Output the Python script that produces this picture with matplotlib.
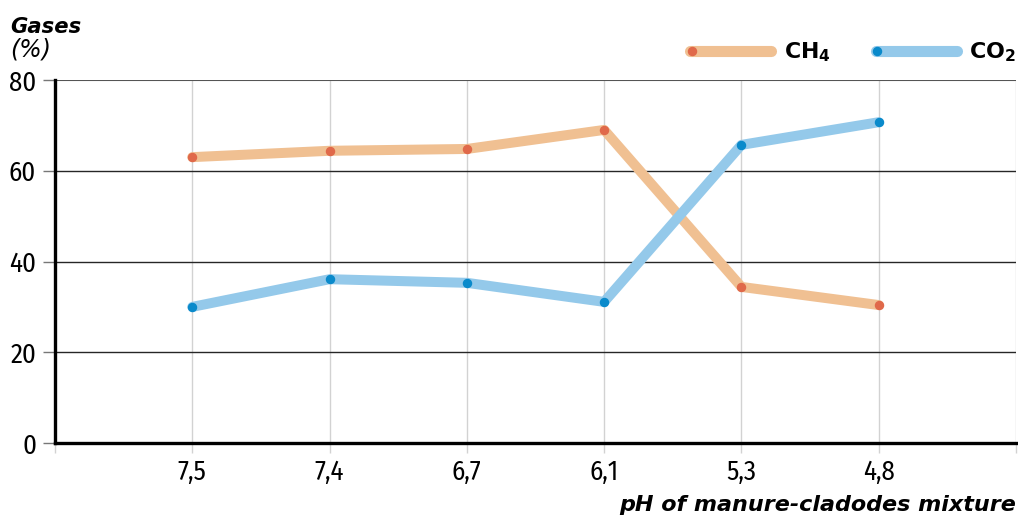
import matplotlib.pyplot as plt
from matplotlib import font_manager as fm
from matplotlib.lines import Line2D

# data
ph_labels = ['7,5', '7,4', '6,7', '6,1', '5,3', '4,8']
ch4 = [63.0, 64.4, 64.8, 69.0, 34.4, 30.4]
co2 = [30.0, 36.1, 35.3, 31.1, 65.7, 70.7]
y_ticks = [0, 20, 40, 60, 80]

CH4_LINE, CH4_DOT = '#f0c092', '#e0694a'
CO2_LINE, CO2_DOT = '#94c9ea', '#0a8acb'

W, H = 1018, 515
available = {f.name for f in fm.fontManager.ttflist}


def pick(cands, default='DejaVu Sans'):
    return next((c for c in cands if c in available), default)


TICK_FONT = pick(['Fira Sans Condensed', 'Roboto Condensed', 'PT Sans Narrow',
                  'Encode Sans Condensed', 'Liberation Sans Narrow'])


def fx(px):
    return px / W


def fy(py):
    return 1 - py / H


fig = plt.figure(figsize=(W / 100, H / 100), dpi=100)
ax = fig.add_axes([fx(55), 72 / H, 961 / W, 363 / H])
renderer = fig.canvas.get_renderer()


def fit_width(txt, target_px):
    # scale a text's font size so that it spans target_px
    w = txt.get_window_extent(renderer).width
    txt.set_fontsize(txt.get_fontsize() * target_px / w)


# tick font size: "7,5" should be ~29 px wide
probe = fig.text(0, 0, '7,5', fontsize=16, family=TICK_FONT)
fit_width(probe, 29)
tick_size = probe.get_fontsize()
probe.remove()

x = list(range(1, len(ph_labels) + 1))

# series
ax.plot(x, ch4, color=CH4_LINE, lw=7.2, solid_capstyle='round',
        solid_joinstyle='round', zorder=3)
ax.plot(x, ch4, ls='none', marker='o', ms=5.8, mfc=CH4_DOT, mec=CH4_DOT, zorder=5)
ax.plot(x, co2, color=CO2_LINE, lw=7.2, solid_capstyle='round',
        solid_joinstyle='round', zorder=4)
ax.plot(x, co2, ls='none', marker='o', ms=5.8, mfc=CO2_DOT, mec=CO2_DOT, zorder=5)

ax.set_xlim(0, len(ph_labels) + 1)
ax.set_ylim(0, 80)

# vertical grid at every position incl. both ends
for xv in range(0, len(ph_labels) + 2):
    ax.axvline(xv, color='#d2d2d2', lw=1.0, zorder=1)
ax.set_xticks(range(0, len(ph_labels) + 2))
ax.set_xticklabels([''] + ph_labels + [''])
ax.tick_params(axis='x', length=7.5, width=1.0, color='#d2d2d2', pad=4,
               labelsize=tick_size)

# horizontal grid
for yv in y_ticks[1:-1]:
    ax.axhline(yv, color='#262626', lw=1.0, zorder=1)
ax.axhline(y_ticks[-1], color='#555555', lw=1.5, zorder=1)
ax.set_yticks(y_ticks)
ax.tick_params(axis='y', length=8.5, width=1.0, color='#777777', pad=5,
               labelsize=tick_size)

for lab in ax.get_xticklabels() + ax.get_yticklabels():
    lab.set_family([TICK_FONT, 'DejaVu Sans'])

for s in ['top', 'right']:
    ax.spines[s].set_visible(False)
for s in ['left', 'bottom']:
    ax.spines[s].set_linewidth(2.4)
    ax.spines[s].set_zorder(6)

# axis titles
t1 = fig.text(fx(10), fy(33), 'Gases', fontsize=15, fontweight='bold',
              style='italic', va='baseline', ha='left')
fit_width(t1, 71)
t2 = fig.text(fx(10), fy(57), '(%)', fontsize=15, style='italic',
              va='baseline', ha='left')
fit_width(t2, 41)
t3 = fig.text(fx(1016), fy(511), 'pH of manure-cladodes mixture',
              fontsize=15, fontweight='bold', style='italic',
              va='baseline', ha='right')
fit_width(t3, 399)

# legend drawn by hand at the top right
legend_rows = [
    ('CH$_\\mathbf{4}$', CH4_LINE, CH4_DOT, 689.5, 770.5, 692, 784, 47),
    ('CO$_\\mathbf{2}$', CO2_LINE, CO2_DOT, 875.5, 956.5, 877, 969, 47),
]
for label, lc, dc, x0, x1, xd, xt, tw in legend_rows:
    fig.add_artist(Line2D([fx(x0), fx(x1)], [fy(51), fy(51)], color=lc,
                          lw=8, solid_capstyle='round', transform=fig.transFigure))
    fig.add_artist(Line2D([fx(xd)], [fy(51)], ls='none', marker='o', ms=5.8,
                          mfc=dc, mec=dc, transform=fig.transFigure))
    lt = fig.text(fx(xt), fy(58), label, fontsize=15, fontweight='bold',
                  va='baseline', ha='left')
    fit_width(lt, tw)

fig.savefig('out.png', dpi=100, facecolor='white')
